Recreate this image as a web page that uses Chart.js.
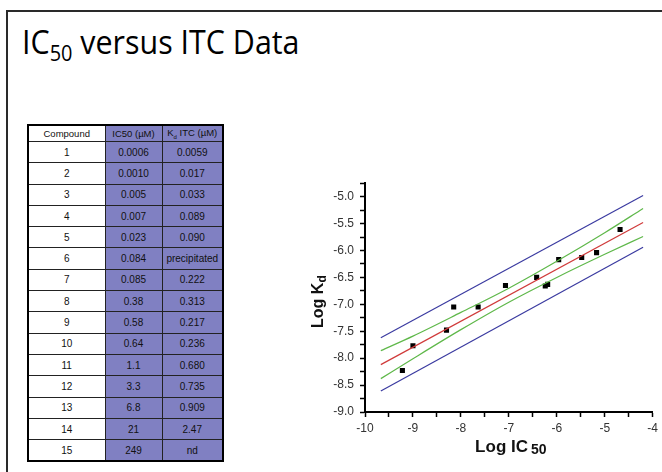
<!DOCTYPE html>
<html>
<head>
<meta charset="utf-8">
<script src="https://cdn.jsdelivr.net/npm/chart.js@4/dist/chart.umd.min.js"></script>
<style>
  html, body { margin: 0; padding: 0; background: #fff; }
  body { width: 662px; height: 472px; position: relative; overflow: hidden; font-family: "Liberation Sans", Arial, sans-serif; }
  .frame { position: absolute; left: 6px; top: 10px; right: -4px; bottom: -4px; border-top: 2px solid #2a2a2a; border-left: 2px solid #2a2a2a; }
  .title { position: absolute; left: 22px; top: 26px; font-family: "Open Sans", sans-serif; font-size: 32px; line-height: 32px; color: #000; white-space: nowrap; transform: scaleX(0.95); transform-origin: left top; }
  .title sub { font-size: 21px; vertical-align: -7px; line-height: 0; }
  table { position: absolute; left: 27px; top: 124px; width: 195px; border-collapse: collapse; border: 2px solid #000; table-layout: fixed; }
  td, th { border: 1px solid #222; padding: 0; text-align: center; font-size: 10px; color: #111; font-weight: normal; }
  th { height: 15px; font-size: 9.5px; }
  td { height: 20.3px; }
  .c0 { background: #fff; }
  .c1 { background: #8080c2; }
  th sub { font-size: 6px; }
  #wrap { position: absolute; left: 300px; top: 170px; width: 362px; height: 302px; }
</style>
</head>
<body>
<div class="frame"></div>
<div class="title">IC<sub>50</sub> versus ITC Data</div>
<table id="tbl">
  <colgroup><col style="width:77px"><col style="width:57px"><col style="width:61px"></colgroup>
  <thead><tr><th class="c0">Compound</th><th class="c1">IC50 (µM)</th><th class="c1">K<sub>d</sub> ITC (µM)</th></tr></thead>
  <tbody></tbody>
</table>
<div id="wrap"><canvas id="chart" width="362" height="302"></canvas></div>
<script>
// table values
const compounds = ['1','2','3','4','5','6','7','8','9','10','11','12','13','14','15'];
const ic50Values = ['0.0006','0.0010','0.005','0.007','0.023','0.084','0.085','0.38','0.58','0.64','1.1','3.3','6.8','21','249'];
const kdValues = ['0.0059','0.017','0.033','0.089','0.090','precipitated','0.222','0.313','0.217','0.236','0.680','0.735','0.909','2.47','nd'];

// scatter points (log IC50 vs log Kd)
const logIC50 = [-9.22, -9.00, -8.30, -8.15, -7.64, -7.07, -6.42, -6.24, -6.19, -5.96, -5.48, -5.17, -4.68];
const logKd = [-8.23, -7.77, -7.48, -7.05, -7.05, -6.65, -6.50, -6.66, -6.63, -6.17, -6.13, -6.04, -5.61];

// fit line and bands
const fitX = [-9.67, -4.2];
const fitY = [-8.12, -5.48];
const predUpperY = [-7.62, -4.98];
const predLowerY = [-8.61, -5.94];
const confX = [-9.67, -9, -8, -7, -6, -5, -4.2];
const confUpperY = [-7.86, -7.59, -7.15, -6.70, -6.20, -5.67, -5.22];
const confLowerY = [-8.38, -8.01, -7.47, -6.96, -6.50, -6.07, -5.74];

const tbody = document.querySelector('#tbl tbody');
compounds.forEach((c, i) => {
  const tr = document.createElement('tr');
  tr.innerHTML = `<td class="c0">${c}</td><td class="c1">${ic50Values[i]}</td><td class="c1">${kdValues[i]}</td>`;
  tbody.appendChild(tr);
});

const pts = (xs, ys) => xs.map((x, i) => ({ x, y: ys[i] }));
const lineSet = (data, color, extra) => Object.assign({
  data, showLine: true, borderColor: color, borderWidth: 1.2, pointRadius: 0, fill: false,
}, extra || {});

// axis titles with subscripts
const axisTitles = {
  id: 'axisTitles',
  afterDraw(chart) {
    const ctx = chart.ctx;
    const xs = chart.scales.x, ys = chart.scales.y;
    ctx.save();
    ctx.fillStyle = '#111';
    ctx.textBaseline = 'alphabetic';
    // x title
    ctx.font = 'bold 17px "Liberation Sans", Arial';
    const main = 'Log IC';
    const w1 = ctx.measureText(main).width;
    ctx.font = 'bold 14px "Liberation Sans", Arial';
    const w2 = ctx.measureText('50').width;
    const cx = (xs.left + xs.right) / 2 + 2;
    const x0 = cx - (w1 + 3 + w2) / 2;
    const by = xs.top + 40;
    ctx.font = 'bold 17px "Liberation Sans", Arial';
    ctx.fillText(main, x0, by);
    ctx.font = 'bold 14px "Liberation Sans", Arial';
    ctx.fillText('50', x0 + w1 + 3, by + 2);
    // y title
    ctx.translate(ys.left + 23, (ys.top + ys.bottom) / 2 + 4);
    ctx.rotate(-Math.PI / 2);
    ctx.font = 'bold 16px "Liberation Sans", Arial';
    const m = 'Log K';
    const mw = ctx.measureText(m).width;
    ctx.font = 'bold 12px "Liberation Sans", Arial';
    const sw = ctx.measureText('d').width;
    const sx = -(mw + sw) / 2;
    ctx.font = 'bold 16px "Liberation Sans", Arial';
    ctx.fillText(m, sx, 0);
    ctx.font = 'bold 12px "Liberation Sans", Arial';
    ctx.fillText('d', sx + mw, 3);
    ctx.restore();
  }
};

const tickFont = { family: '"Liberation Sans", Arial', size: 12 };

new Chart(document.getElementById('chart'), {
  type: 'scatter',
  data: {
    datasets: [
      lineSet(pts(fitX, predUpperY), '#3a3aa0'),
      lineSet(pts(fitX, predLowerY), '#3a3aa0'),
      lineSet(pts(confX, confUpperY), '#5fb84a', { cubicInterpolationMode: 'monotone' }),
      lineSet(pts(confX, confLowerY), '#5fb84a', { cubicInterpolationMode: 'monotone' }),
      lineSet(pts(fitX, fitY), '#d03a3a'),
      {
        data: pts(logIC50, logKd),
        pointStyle: 'rect',
        pointRadius: 3.6,
        backgroundColor: '#000',
        borderColor: '#000',
        borderWidth: 0,
      },
    ],
  },
  options: {
    responsive: false,
    animation: false,
    layout: { padding: { top: 12, right: 9, left: 0, bottom: 0 } },
    plugins: { legend: { display: false }, tooltip: { enabled: false } },
    scales: {
      x: {
        type: 'linear',
        min: -10, max: -4,
        afterFit: s => { s.height = 60; },
        border: { color: '#000', width: 2 },
        grid: { drawOnChartArea: false, drawTicks: true, tickLength: 5, tickColor: '#000', tickWidth: 1.5 },
        ticks: {
          stepSize: 0.5, color: '#333', font: tickFont, padding: 4, maxRotation: 0, autoSkip: false,
          callback: v => Number.isInteger(v) ? String(v) : '',
        },
      },
      y: {
        type: 'linear',
        min: -9, max: -4.75,
        afterFit: s => { s.width = 65; },
        border: { color: '#000', width: 2 },
        grid: { drawOnChartArea: false, drawTicks: true, tickLength: 5, tickColor: '#000', tickWidth: 1.5 },
        ticks: {
          stepSize: 0.25, color: '#333', font: tickFont, padding: 6, autoSkip: false,
          callback: v => Math.abs(v * 2 - Math.round(v * 2)) < 1e-6 ? v.toFixed(1) : '',
        },
      },
    },
  },
  plugins: [axisTitles],
});
</script>
</body>
</html>
